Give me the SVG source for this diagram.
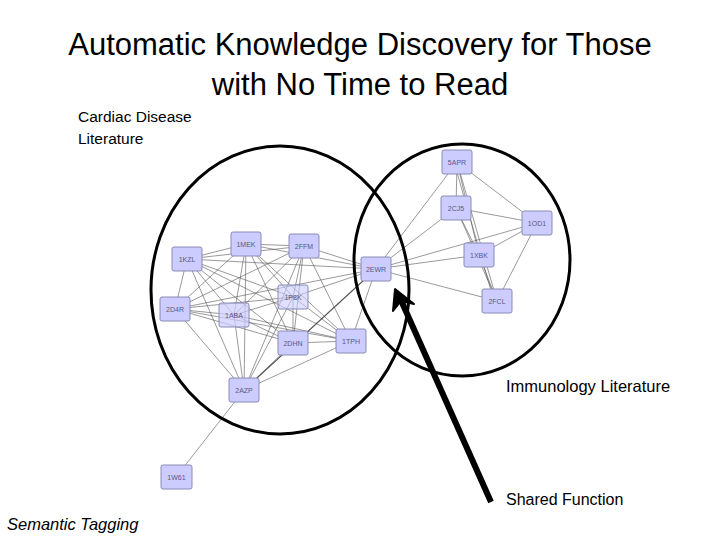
<svg xmlns="http://www.w3.org/2000/svg" width="720" height="540" viewBox="0 0 720 540">
<style>
.t{font-family:"Liberation Sans",Arial,sans-serif;fill:#000}
.n rect{fill:#ccccff;stroke:#8a8ab8;stroke-width:1}
.n text{font-family:"Liberation Sans",Arial,sans-serif;font-size:7px;fill:#5a5a80;text-anchor:middle}
.e line{stroke:#555;stroke-width:0.7;stroke-opacity:0.85}
.c{fill:none;stroke:#000;stroke-width:3}
</style>
<rect width="720" height="540" fill="#fff"/>
<text class="t" x="360" y="55" font-size="31" text-anchor="middle">Automatic Knowledge Discovery for Those</text>
<text class="t" x="360" y="95" font-size="31" text-anchor="middle">with No Time to Read</text>
<text class="t" x="78" y="122" font-size="15.5">Cardiac Disease</text>
<text class="t" x="78" y="144" font-size="15.5">Literature</text>
<g id="connectors" class="e">
<line x1="187" y1="259" x2="246" y2="244"/>
<line x1="187" y1="259" x2="304" y2="246"/>
<line x1="187" y1="259" x2="376" y2="269"/>
<line x1="187" y1="259" x2="175" y2="309"/>
<line x1="187" y1="259" x2="234" y2="315"/>
<line x1="187" y1="259" x2="293" y2="343"/>
<line x1="187" y1="259" x2="351" y2="341"/>
<line x1="187" y1="259" x2="244" y2="390"/>
<line x1="187" y1="259" x2="293" y2="297"/>
<line x1="246" y1="244" x2="304" y2="246"/>
<line x1="246" y1="244" x2="175" y2="309"/>
<line x1="246" y1="244" x2="234" y2="315"/>
<line x1="246" y1="244" x2="244" y2="390"/>
<line x1="246" y1="244" x2="293" y2="343"/>
<line x1="246" y1="244" x2="351" y2="341"/>
<line x1="246" y1="244" x2="376" y2="269"/>
<line x1="246" y1="244" x2="293" y2="297"/>
<line x1="304" y1="246" x2="376" y2="269"/>
<line x1="304" y1="246" x2="175" y2="309"/>
<line x1="304" y1="246" x2="234" y2="315"/>
<line x1="304" y1="246" x2="293" y2="297"/>
<line x1="304" y1="246" x2="293" y2="343"/>
<line x1="304" y1="246" x2="351" y2="341"/>
<line x1="304" y1="246" x2="244" y2="390"/>
<line x1="175" y1="309" x2="234" y2="315"/>
<line x1="175" y1="309" x2="293" y2="297"/>
<line x1="175" y1="309" x2="293" y2="343"/>
<line x1="175" y1="309" x2="351" y2="341"/>
<line x1="175" y1="309" x2="244" y2="390"/>
<line x1="175" y1="309" x2="376" y2="269"/>
<line x1="234" y1="315" x2="293" y2="297"/>
<line x1="234" y1="315" x2="351" y2="341"/>
<line x1="234" y1="315" x2="293" y2="343"/>
<line x1="234" y1="315" x2="244" y2="390"/>
<line x1="293" y1="297" x2="376" y2="269"/>
<line x1="293" y1="297" x2="293" y2="343"/>
<line x1="293" y1="297" x2="244" y2="390"/>
<line x1="293" y1="297" x2="351" y2="341"/>
<line x1="293" y1="343" x2="351" y2="341"/>
<line x1="293" y1="343" x2="244" y2="390"/>
<line x1="351" y1="341" x2="244" y2="390"/>
<line x1="351" y1="341" x2="376" y2="269"/>
<line x1="376" y1="269" x2="244" y2="390" style="stroke-width:1.1;stroke:#333"/>
<line x1="244" y1="390" x2="176" y2="477"/>
<line x1="376" y1="269" x2="457" y2="162"/>
<line x1="376" y1="269" x2="456" y2="208"/>
<line x1="376" y1="269" x2="537" y2="223"/>
<line x1="376" y1="269" x2="479" y2="255"/>
<line x1="376" y1="269" x2="497" y2="301"/>
<line x1="457" y1="162" x2="456" y2="208"/>
<line x1="457" y1="162" x2="537" y2="223"/>
<line x1="457" y1="162" x2="479" y2="255"/>
<line x1="457" y1="162" x2="497" y2="301"/>
<line x1="454" y1="162" x2="494" y2="301"/>
<line x1="456" y1="208" x2="537" y2="223"/>
<line x1="456" y1="208" x2="479" y2="255"/>
<line x1="456" y1="208" x2="497" y2="301"/>
<line x1="537" y1="223" x2="479" y2="255"/>
<line x1="537" y1="223" x2="497" y2="301"/>
<line x1="479" y1="255" x2="497" y2="301"/>
</g>
<g id="n-5APR" class="n"><rect x="442" y="150" width="30" height="24" rx="2"/><text x="457" y="164.5">5APR</text></g>
<g id="n-2CJ5" class="n"><rect x="441" y="196" width="30" height="24" rx="2"/><text x="456" y="210.5">2CJ5</text></g>
<g id="n-1OD1" class="n"><rect x="522" y="211" width="30" height="24" rx="2"/><text x="537" y="225.5">1OD1</text></g>
<g id="n-1XBK" class="n"><rect x="464" y="243" width="30" height="24" rx="2"/><text x="479" y="257.5">1XBK</text></g>
<g id="n-2EWR" class="n"><rect x="361" y="257" width="30" height="24" rx="2"/><text x="376" y="271.5">2EWR</text></g>
<g id="n-2FCL" class="n"><rect x="482" y="289" width="30" height="24" rx="2"/><text x="497" y="303.5">2FCL</text></g>
<g id="n-1MEK" class="n"><rect x="231" y="232" width="30" height="24" rx="2"/><text x="246" y="246.5">1MEK</text></g>
<g id="n-2FFM" class="n"><rect x="289" y="234" width="30" height="24" rx="2"/><text x="304" y="248.5">2FFM</text></g>
<g id="n-1KZL" class="n"><rect x="172" y="247" width="30" height="24" rx="2"/><text x="187" y="261.5">1KZL</text></g>
<g id="n-1P8K" class="n"><rect x="278" y="285" width="30" height="24" rx="2" style="fill-opacity:0.6"/><text x="293" y="299.5">1P8K</text></g>
<g id="n-2D4R" class="n"><rect x="160" y="297" width="30" height="24" rx="2"/><text x="175" y="311.5">2D4R</text></g>
<g id="n-1ABA" class="n"><rect x="219" y="303" width="30" height="24" rx="2" style="fill-opacity:0.7"/><text x="234" y="317.5">1ABA</text></g>
<g id="n-2DHN" class="n"><rect x="278" y="331" width="30" height="24" rx="2"/><text x="293" y="345.5">2DHN</text></g>
<g id="n-1TPH" class="n"><rect x="336" y="329" width="30" height="24" rx="2"/><text x="351" y="343.5">1TPH</text></g>
<g id="n-2AZP" class="n"><rect x="229" y="378" width="30" height="24" rx="2"/><text x="244" y="392.5">2AZP</text></g>
<g id="n-1W61" class="n"><rect x="161" y="465" width="31" height="24" rx="2"/><text x="176.5" y="479.5">1W61</text></g>
<g id="ellipses">
<ellipse class="c" cx="280" cy="290" rx="129" ry="144"/>
<ellipse class="c" cx="462" cy="260" rx="108" ry="116"/>
</g>
<g id="arrow">
<line x1="491" y1="502" x2="400" y2="298" stroke="#000" stroke-width="6"/>
<polygon points="395,289 393,311 401,301 414,304" fill="#000" stroke="#000" stroke-width="2" stroke-linejoin="round"/>
</g>
<text class="t" x="506" y="392" font-size="16.5">Immunology Literature</text>
<text class="t" x="506" y="505" font-size="16">Shared Function</text>
<text class="t" x="7" y="530" font-size="16.5" font-style="italic">Semantic Tagging</text>
</svg>
